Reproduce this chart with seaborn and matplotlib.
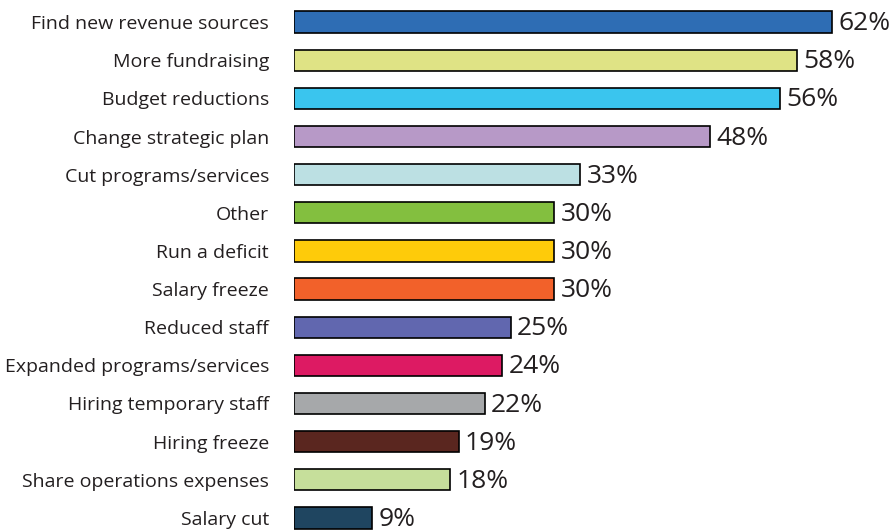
import numpy as np
import pandas as pd
import matplotlib
matplotlib.use('Agg')
import matplotlib.pyplot as plt
import seaborn as sns

categories = ['Find new revenue sources', 'More fundraising', 'Budget reductions',
              'Change strategic plan', 'Cut programs/services', 'Other',
              'Run a deficit', 'Salary freeze', 'Reduced staff',
              'Expanded programs/services', 'Hiring temporary staff',
              'Hiring freeze', 'Share operations expenses', 'Salary cut']
values = [62, 58, 56, 48, 33, 30, 30, 30, 25, 24, 22, 19, 18, 9]
colors = ['#2E6DB4', '#DFE385', '#3AC5EE', '#B799C7', '#BCE0E3', '#83BF3F',
          '#FECB0A', '#F2612A', '#6167AF', '#DD1A63', '#A6A8AA', '#5A261F',
          '#C6DF9B', '#1F4560']

df = pd.DataFrame({'cat': categories, 'val': values})

sns.set_theme(style='white')
plt.rcParams['font.family'] = ['Open Sans', 'DejaVu Sans']

fig = plt.figure(figsize=(8.96, 5.32), dpi=100)
ax = fig.add_axes([294/896, 0, 590/896, 1])

sns.barplot(data=df, y='cat', x='val', hue='cat', palette=colors, legend=False,
            orient='h', width=0.56, edgecolor='black', linewidth=1.2, ax=ax,
            saturation=1)

ax.set_xlim(0, 68)
ax.set_ylim(13.37, -0.58)
for s in ax.spines.values():
    s.set_visible(False)
ax.set_xticks([])
ax.set_xlabel('')
ax.set_ylabel('')
ax.tick_params(axis='y', length=0, pad=18, labelsize=14, colors='#231F20')

for i, v in enumerate(values):
    ax.text(v + 0.7, i + 0.04, f'{v}%', va='center', ha='left', fontsize=19,
            color='#231F20')

fig.savefig('out.png', dpi=100)
